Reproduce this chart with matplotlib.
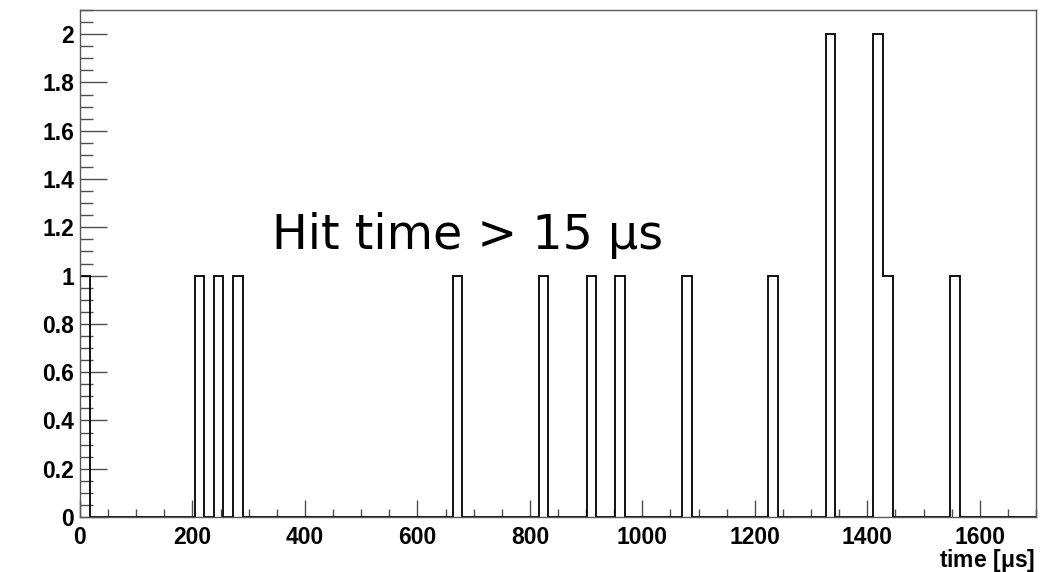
import numpy as np
import matplotlib
matplotlib.use('Agg')
import matplotlib.pyplot as plt
from matplotlib.ticker import MultipleLocator, FormatStrFormatter

# ---------------- data ----------------
# recorded hit times in microseconds (one entry per hit)
hit_times = [8, 212, 245, 280, 670, 825, 910, 960, 1080, 1232,
             1333, 1335, 1418, 1421, 1436, 1555]
n_bins = 100
t_min, t_max = 0, 1700
y_max = 2.1

x_label = r"time [$\mathbf{\mu}$s]"
note_text = "Hit time > 15 μs"

# ---------------- layout ----------------
plt.rc('font', family=['Liberation Sans', 'DejaVu Sans'], weight='bold', size=16.5)
plt.rc('mathtext', fontset='custom', bf='Liberation Sans:bold', rm='Liberation Sans:bold')

fig = plt.figure(figsize=(10.4, 5.72), dpi=100)
ax = fig.add_axes([80 / 1040, 55 / 572, 956 / 1040, 507 / 572])

ax.hist(hit_times, bins=n_bins, range=(t_min, t_max), histtype='step',
        color='black', linewidth=1.3)

ax.set_xlim(t_min, t_max)
ax.set_ylim(0, y_max)

ax.xaxis.set_major_locator(MultipleLocator(200))
ax.xaxis.set_minor_locator(MultipleLocator(50))
ax.yaxis.set_major_locator(MultipleLocator(0.2))
ax.yaxis.set_minor_locator(MultipleLocator(0.05))
ax.yaxis.set_major_formatter(FormatStrFormatter('%g'))

# tick lengths in points (reference pixels * 0.72)
ax.tick_params(axis='x', which='major', direction='in', length=12.2, width=1, color='0.3', pad=6.5)
ax.tick_params(axis='x', which='minor', direction='in', length=5.8, width=1, color='0.3')
ax.tick_params(axis='y', which='major', direction='in', length=19.4, width=1, color='0.3', pad=4.3)
ax.tick_params(axis='y', which='minor', direction='in', length=9.4, width=1, color='0.3')
ax.tick_params(top=False, right=False)

for side in ['top', 'right', 'left', 'bottom']:
    ax.spines[side].set_linewidth(1)
    ax.spines[side].set_color('0.35')

fig.text(1035 / 1040, (572 - 547) / 572, x_label, fontsize=16.5, fontweight='bold',
         ha='right', va='top')

ax.text(341, 1.11, note_text, fontsize=34.3, fontweight='normal',
        family='DejaVu Sans', ha='left', va='baseline')

fig.savefig('out.png', dpi=100)
